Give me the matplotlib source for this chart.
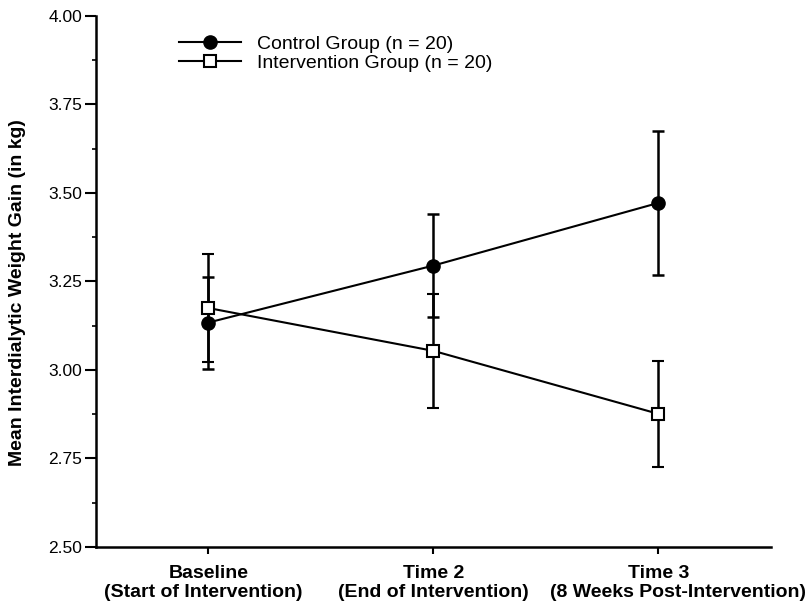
import matplotlib
matplotlib.use("Agg")
import matplotlib.pyplot as plt
from matplotlib.ticker import MultipleLocator
from matplotlib.lines import Line2D

time_names = ["Baseline", "Time 2", "Time 3"]
time_notes = ["(Start of Intervention)", "(End of Intervention)", "(8 Weeks Post-Intervention)"]
control_mean = [3.134, 3.295, 3.472]
control_err = [0.13, 0.145, 0.203]
interv_mean = [3.175, 3.054, 2.876]
interv_err = [0.152, 0.162, 0.15]
legend_labels = ["Control Group (n = 20)", "Intervention Group (n = 20)"]

plt.rcParams['font.family'] = ['Liberation Sans', 'DejaVu Sans']

fig = plt.figure(figsize=(8.12, 6.06), dpi=100)
ax = fig.add_axes([0.118, 0.0974, 0.8315, 0.8762])

x = [1, 2, 3]
ax.errorbar(x, control_mean, yerr=control_err, color='black', lw=1.5, elinewidth=1.8,
            capsize=4, capthick=1.8, marker='o', ms=9.5, mfc='black', mec='black', zorder=3)
ax.errorbar(x, interv_mean, yerr=interv_err, color='black', lw=1.5, elinewidth=1.8,
            capsize=4, capthick=1.8, marker='s', ms=8.5, mfc='white', mec='black', mew=1.5,
            zorder=4)

ax.set_xlim(0.5, 3.5)
ax.set_ylim(2.5, 4.0)
ax.yaxis.set_major_locator(MultipleLocator(0.25))
ax.yaxis.set_minor_locator(MultipleLocator(0.125))
ax.set_yticklabels([f"{v:.2f}" for v in ax.get_yticks()])
ax.set_xticks(x)
ax.set_xticklabels(time_names, fontsize=14, fontweight='bold')
ax.tick_params(axis='y', which='major', length=8, width=1.5, labelsize=12.5, pad=2)
ax.tick_params(axis='y', which='minor', length=3, width=1.2)
ax.tick_params(axis='x', which='major', length=5, width=1.5, pad=8)

# second lines of the category labels
offsets = [-5, 0, 20]
for xi, note, off in zip(x, time_notes, offsets):
    ax.annotate(note, xy=(xi, 0), xycoords=('data', 'axes fraction'),
                xytext=(off * 0.72, -32.5), textcoords='offset points',
                ha='center', va='center', fontsize=14, fontweight='bold',
                annotation_clip=False)

for s in ['top', 'right']:
    ax.spines[s].set_visible(False)
for s in ['left', 'bottom']:
    ax.spines[s].set_linewidth(1.8)

ax.set_ylabel("Mean Interdialytic Weight Gain (in kg)", fontsize=14, fontweight='bold')
ax.yaxis.set_label_coords(-0.104, 0.48)

handles = [
    Line2D([], [], color='black', lw=1.5, marker='o', ms=9.5, mfc='black', mec='black'),
    Line2D([], [], color='black', lw=1.5, marker='s', ms=8.5, mfc='white', mec='black', mew=1.5),
]
ax.legend(handles, legend_labels, loc='upper left', bbox_to_anchor=(0.097, 0.996), frameon=False,
          fontsize=14, handlelength=3.2, handletextpad=0.8, labelspacing=0.05)

fig.savefig("out.png", dpi=100)
